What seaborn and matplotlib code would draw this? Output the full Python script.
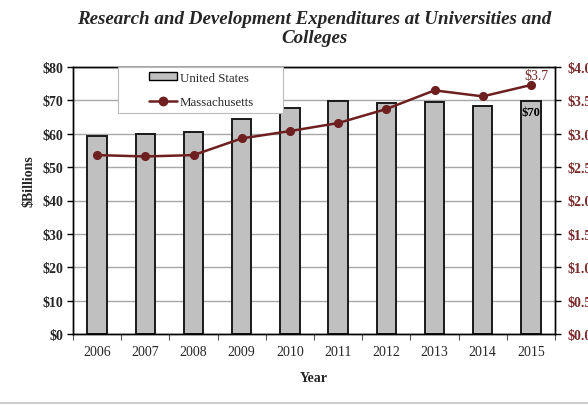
import matplotlib
matplotlib.use("Agg")
import matplotlib.pyplot as plt
import seaborn as sns
import pandas as pd
from matplotlib.patches import Patch, Rectangle
from matplotlib.lines import Line2D
from matplotlib.ticker import FixedLocator, FuncFormatter

years = ["2006", "2007", "2008", "2009", "2010", "2011", "2012", "2013", "2014", "2015"]
us_values = [59.2, 59.9, 60.6, 64.3, 67.6, 69.9, 69.1, 69.4, 68.4, 69.7]
ma_values = [2.68, 2.66, 2.68, 2.93, 3.04, 3.16, 3.37, 3.65, 3.56, 3.73]
left_ticks = [0, 10, 20, 30, 40, 50, 60, 70, 80]
right_ticks = [0.0, 0.5, 1.0, 1.5, 2.0, 2.5, 3.0, 3.5, 4.0]
title = "Research and Development Expenditures at Universities and\nColleges"
us_label_text = "$70"
ma_label_text = "$3.7"

df = pd.DataFrame({"Year": years, "US": us_values, "MA": ma_values})

sns.set_theme(style="white")
plt.rcParams["font.family"] = ["Liberation Serif", "DejaVu Serif"]

maroon = "#6E1F1F"
label_maroon = "#7A2A2A"

fig = plt.figure(figsize=(5.88, 4.06), dpi=100)
ax = fig.add_axes([73/588, 1-335/406, (555-73)/588, (335-68)/406])

sns.barplot(data=df, x="Year", y="US", ax=ax, color="#C0C0C0", width=0.4,
            edgecolor="#1A1A1A", linewidth=1.4, saturation=1, zorder=2)
ax.set_ylim(0, 80)
ax.set_xlim(-0.5, 9.5)
ax.yaxis.set_major_locator(FixedLocator(left_ticks))
ax.yaxis.set_major_formatter(FuncFormatter(lambda v, p: f"${v:.0f}"))
ax.grid(axis="y", color="#A8A8A8", linewidth=1.0, zorder=0)
ax.set_axisbelow(True)
for s in ax.spines.values():
    s.set_color("black")
    s.set_linewidth(1.0)
ax.tick_params(axis="y", which="major", direction="out", length=4, width=1,
               color="black", labelsize=10, pad=3, left=True)
for t in ax.get_yticklabels():
    t.set_fontweight("bold")
ax.tick_params(axis="x", which="major", length=0, labelsize=10, pad=8)
ax.set_xticks([i - 0.5 for i in range(11)], minor=True)
ax.tick_params(axis="x", which="minor", direction="out", length=4, width=0.8,
               color="#555555", bottom=True)
ax.set_xlabel("Year", fontsize=10, fontweight="bold", labelpad=9)
ax.set_ylabel("$Billions", fontsize=10, fontweight="bold")
ax.yaxis.set_label_coords(-0.078, 0.577)

# last bar label
ax.annotate(us_label_text, xy=(9, us_values[-1]), xytext=(0, -8),
            textcoords="offset points", ha="center", va="center",
            fontsize=9, fontweight="bold", color="black", zorder=5)

ax2 = ax.twinx()
sns.pointplot(data=df, x="Year", y="MA", ax=ax2, color=maroon,
              markers="o", markersize=5.2, linewidth=1.8, zorder=4)
ax2.set_ylim(0, 4.0)
ax2.set_xlim(-0.5, 9.5)
ax2.yaxis.set_major_locator(FixedLocator(right_ticks))
ax2.yaxis.set_major_formatter(FuncFormatter(lambda v, p: f"${v:.1f}"))
ax2.tick_params(axis="y", which="major", direction="out", length=4, width=1,
                color="black", labelsize=10, labelcolor=label_maroon, pad=5, right=True)
for t in ax2.get_yticklabels():
    t.set_fontweight("bold")
ax2.set_ylabel("")
ax2.set_xlabel("")
ax2.grid(False)
for s in ax2.spines.values():
    s.set_color("black")
    s.set_linewidth(1.0)

ax2.annotate(ma_label_text, xy=(9, ma_values[-1]), xytext=(4.3, 7),
             textcoords="offset points", ha="center", va="center",
             fontsize=10, color=label_maroon)

# legend box
lx0, lx1 = (118-73)/482, (283-73)/482
ly0, ly1 = (335-114)/267, 1.0
ax2.add_patch(Rectangle((lx0, ly0), lx1-lx0, ly1-ly0, transform=ax2.transAxes,
                        facecolor="white", edgecolor="#BBBBBB", linewidth=0.8,
                        zorder=6, clip_on=False))
handles = [Patch(facecolor="#C0C0C0", edgecolor="black", linewidth=1.0),
           Line2D([0], [0], color=maroon, linewidth=1.8, marker="o", markersize=6)]
leg = ax2.legend(handles, ["United States", "Massachusetts"],
                 loc="center", bbox_to_anchor=((lx0+lx1)/2 + 0.002, (ly0+ly1)/2),
                 frameon=False, fontsize=9.3,
                 handlelength=2.2, handleheight=0.5, handletextpad=0.2,
                 labelspacing=1.0, borderpad=0.0, borderaxespad=0.0)
leg.set_zorder(7)

fig.text(314/588, 1-29/406, title, ha="center", va="center", fontsize=13.7,
         fontweight="bold", fontstyle="italic", linespacing=1.2)

# bottom gray separator
fig.add_artist(Line2D([0, 1], [1-404/406, 1-404/406], color="#CCCCCC", linewidth=1.5))

fig.savefig("out.png", dpi=100)
